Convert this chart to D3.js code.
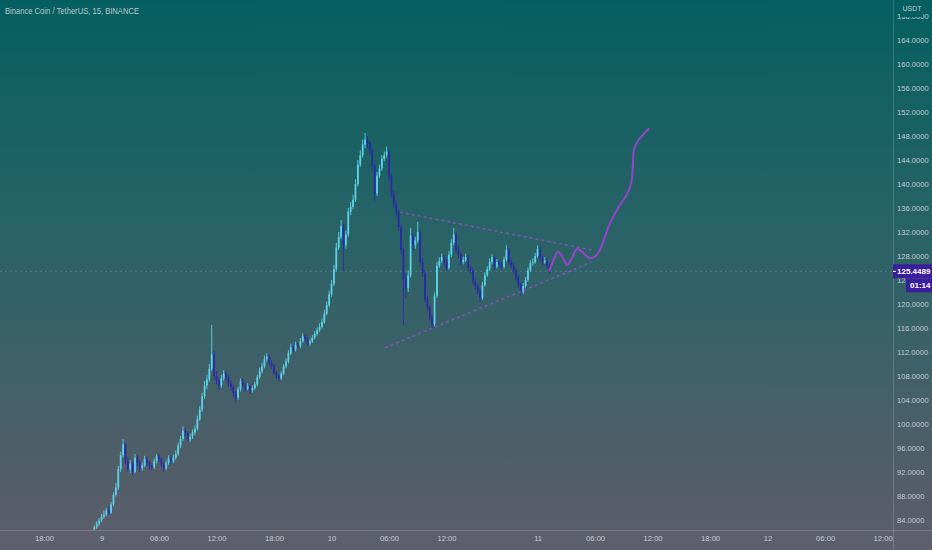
<!DOCTYPE html>
<html>
<head>
<meta charset="utf-8">
<script src="https://cdn.jsdelivr.net/npm/d3@7/dist/d3.min.js"></script>
<style>
html,body{margin:0;padding:0;background:#3a6066;}
svg{display:block;}
text{font-family:"Liberation Sans",Arial,sans-serif;}
</style>
</head>
<body>
<svg id="chart" width="932" height="550"></svg>
<script>
// ---- data ----
const title = "Binance Coin / TetherUS, 15, BINANCE";
const currency = "USDT";
const lastPriceLabel = "125.4489";
const countdownLabel = "01:14";
const lastPrice = 125.4489;

// time axis (15-minute bar index) tick labels
const tickLabels = ["18:00","9","06:00","12:00","18:00","10","06:00","12:00","11","06:00","12:00","18:00","12","06:00","12:00"];
const tickBars   = [0,24,48,72,96,120,144,168,206,230,254,278,302,326,350];
const priceTicks = [84,88,92,96,100,104,108,112,116,120,124,128,132,136,140,144,148,152,156,160,164,168];

const firstBar = 21;
const opens = [82.4,82.8,83.4,83.9,84.5,84.9,85.6,85.2,86.6,88.2,89.4,92.5,94.8,96.6,93.8,92.4,93.4,92.0,94.4,93.6,
92.6,93.1,94.2,93.5,93.0,92.8,93.8,94.6,94.1,93.2,92.6,93.5,94.3,93.8,94.4,95.0,96.4,97.5,98.9,98.5,
97.4,97.9,98.6,99.2,100.8,102.4,104.6,106.4,107.4,109.2,111.6,108.0,107.2,106.4,107.6,108.4,107.8,106.8,106.2,105.2,
104.4,105.8,107.1,106.4,105.9,106.3,105.6,106.0,106.6,107.8,108.8,109.6,110.8,111.2,110.2,109.6,108.6,108.0,107.6,108.4,
109.6,110.4,111.8,112.8,112.4,113.2,113.0,113.8,114.6,114.2,113.4,113.8,114.4,115.0,115.6,116.2,117.0,118.4,119.8,121.6,
123.4,125.8,129.4,131.2,133.0,129.8,131.6,135.4,136.2,137.4,140.0,143.2,144.8,146.6,147.4,146.8,145.6,143.0,138.4,141.4,
142.6,144.2,144.8,145.4,141.2,138.4,136.6,135.2,132.8,129.0,124.2,122.6,124.8,131.4,129.8,130.6,132.0,127.0,125.2,120.8,
119.4,117.8,116.6,121.4,126.4,127.2,127.8,127.0,126.0,128.2,130.2,131.6,129.0,128.2,127.0,127.4,127.8,126.0,125.6,123.8,
123.0,122.2,121.0,123.2,124.8,125.8,127.0,127.8,126.2,127.0,126.6,126.2,127.4,129.0,127.0,126.4,125.6,124.4,123.2,122.0,
123.0,124.0,125.6,126.8,127.0,128.0,129.2,127.6,127.0,127.2,126.4];
const highs = [83.1,83.8,84.3,85.0,85.6,86.0,86.2,87.0,88.6,90.2,93.0,95.4,97.5,97.0,94.5,94.0,93.8,95.0,94.9,94.0,
93.6,94.7,94.6,93.9,93.4,94.2,95.0,95.0,94.4,93.5,93.9,94.8,94.6,94.9,95.6,96.9,98.0,99.6,99.3,98.8,
98.4,99.1,99.8,101.4,103.0,105.2,107.2,108.2,110.0,116.5,112.2,108.8,107.8,108.2,109.0,108.8,108.2,107.2,106.6,105.6,
106.2,107.6,107.6,106.8,106.8,106.6,106.4,107.0,108.2,109.4,110.2,111.4,111.8,111.6,110.6,110.0,108.9,108.3,108.8,110.0,
110.9,112.3,113.4,113.2,113.7,113.6,114.3,115.1,115.0,114.5,114.2,114.8,115.5,116.1,116.8,117.6,119.0,120.4,122.2,124.0,
126.5,130.2,132.0,134.0,133.4,132.2,136.0,137.0,138.2,140.8,144.0,145.6,147.4,148.5,148.0,147.2,146.0,143.4,142.0,143.2,
144.8,145.4,146.2,145.8,141.6,138.9,137.2,135.6,133.2,129.4,125.0,125.6,132.7,131.8,131.2,133.7,132.4,127.6,125.6,121.4,
119.8,118.2,121.9,127.0,127.8,128.4,128.2,127.4,128.8,130.8,132.7,132.0,129.6,128.6,127.9,128.4,128.2,126.5,126.0,124.2,
123.4,122.6,123.7,125.3,126.3,127.6,128.3,128.1,127.5,127.3,127.0,127.9,129.8,129.3,127.4,126.8,126.0,124.8,123.6,123.5,
124.5,126.1,127.3,127.6,128.5,129.8,129.5,128.0,127.8,127.6,126.8];
const lows = [82.1,82.5,83.0,83.6,84.2,84.6,84.8,85.0,86.3,87.9,89.0,92.0,94.4,93.2,92.0,91.8,91.4,91.8,93.0,92.0,
92.2,92.8,93.0,92.4,92.2,92.5,93.4,93.7,92.8,92.0,92.3,93.2,93.3,93.5,94.1,94.7,96.0,97.2,98.0,97.0,
97.0,97.5,98.2,98.9,100.5,102.0,104.2,105.8,107.0,108.8,107.4,106.6,105.8,106.0,107.2,107.2,106.2,105.6,104.6,103.6,
104.0,105.4,106.0,105.4,105.6,105.0,105.2,105.7,106.3,107.5,108.4,109.3,110.4,109.8,109.2,108.2,107.5,107.1,107.3,108.1,
109.3,110.1,111.5,111.9,112.1,112.6,112.7,113.5,113.8,113.0,113.0,113.5,114.1,114.7,115.3,115.9,116.7,118.1,119.5,121.2,
123.0,125.4,129.0,130.8,125.5,129.2,131.2,134.8,135.8,137.0,139.6,142.8,144.4,146.0,146.0,145.0,142.4,137.0,138.0,141.0,
142.2,143.8,144.4,140.6,137.8,136.0,134.6,132.2,128.4,116.5,121.0,122.0,124.4,128.8,129.2,130.2,126.4,124.6,120.2,118.8,
117.2,116.0,116.3,121.0,126.0,126.8,126.4,125.4,125.7,127.8,129.8,128.4,127.6,126.4,126.6,127.0,125.5,125.0,123.2,122.4,
121.6,120.3,120.7,122.9,124.5,125.5,126.6,125.7,125.9,126.1,125.7,125.9,127.1,126.5,125.9,125.1,123.9,122.7,121.4,121.7,
122.7,123.7,125.3,126.4,126.7,127.7,127.1,126.5,126.7,125.9,125.0];
const closes = [82.8,83.4,83.9,84.5,84.9,85.6,85.2,86.6,88.2,89.4,92.5,94.8,96.6,93.8,92.4,93.4,92.0,94.4,93.6,92.6,
93.1,94.2,93.5,93.0,92.8,93.8,94.6,94.1,93.2,92.6,93.5,94.3,93.8,94.4,95.0,96.4,97.5,98.9,98.5,97.4,
97.9,98.6,99.2,100.8,102.4,104.6,106.4,107.4,109.2,111.6,108.0,107.2,106.4,107.6,108.4,107.8,106.8,106.2,105.2,104.4,
105.8,107.1,106.4,105.9,106.3,105.6,106.0,106.6,107.8,108.8,109.6,110.8,111.2,110.2,109.6,108.6,108.0,107.6,108.4,109.6,
110.4,111.8,112.8,112.4,113.2,113.0,113.8,114.6,114.2,113.4,113.8,114.4,115.0,115.6,116.2,117.0,118.4,119.8,121.6,123.4,
125.8,129.4,131.2,133.0,129.8,131.6,135.4,136.2,137.4,140.0,143.2,144.8,146.6,147.4,146.8,145.6,143.0,138.4,141.4,142.6,
144.2,144.8,145.4,141.2,138.4,136.6,135.2,132.8,129.0,124.2,122.6,124.8,131.4,129.8,130.6,132.0,127.0,125.2,120.8,119.4,
117.8,116.6,121.4,126.4,127.2,127.8,127.0,126.0,128.2,130.2,131.6,129.0,128.2,127.0,127.4,127.8,126.0,125.6,123.8,123.0,
122.2,121.0,123.2,124.8,125.8,127.0,127.8,126.2,127.0,126.6,126.2,127.4,129.0,127.0,126.4,125.6,124.4,123.2,122.0,123.0,
124.0,125.6,126.8,127.0,128.0,129.2,127.6,127.0,127.2,126.4,125.4489];

// projected path (drawing): bar index, price
const projBars   = [210.8,212.4,214.5,216.6,218.3,220.4,222.5,224.5,227.5,229.5,231.6,233.7,235.4,237.5,240.0,242.9,245.0,245.8,246.2,247.9,250.0,252.5];
const projPrices = [125.5,127.0,128.7,127.7,126.5,127.7,129.2,128.7,127.7,127.8,128.7,130.7,132.7,134.5,136.3,138.0,140.0,143.2,145.7,147.2,148.2,149.3];

// triangle trend lines: [startBar, startPrice, endBar, endPrice]
const upperTrend = [148.6,135.3,228.7,129.0];
const lowerTrend = [142.3,112.7,228.7,127.0];

// ---- layout ----
const W = 932, H = 550;
const plotRight = 893, plotBottom = 530;
const svg = d3.select("#chart");

const x = d3.scaleLinear().domain([0,350]).range([44,882.6]);
const y = d3.scaleLinear().domain([84,164]).range([520,40]);

const defs = svg.append("defs");
const grad = defs.append("linearGradient").attr("id","bg").attr("x1",0).attr("y1",0).attr("x2",0).attr("y2",1);
grad.append("stop").attr("offset","0%").attr("stop-color","#055f60");
grad.append("stop").attr("offset","45%").attr("stop-color","#2a6367");
grad.append("stop").attr("offset","100%").attr("stop-color","#5b5d6a");
defs.append("clipPath").attr("id","plotclip").append("rect")
  .attr("x",0).attr("y",0).attr("width",plotRight).attr("height",plotBottom);

svg.append("rect").attr("width",W).attr("height",plotBottom).attr("fill","url(#bg)");
svg.append("rect").attr("y",plotBottom).attr("width",W).attr("height",H-plotBottom).attr("fill","#5e5f6d");

const plot = svg.append("g").attr("clip-path","url(#plotclip)");

// last price dotted line
plot.append("line")
  .attr("x1",0).attr("x2",plotRight)
  .attr("y1",y(lastPrice)).attr("y2",y(lastPrice))
  .attr("stroke","rgba(140,150,210,0.45)").attr("stroke-width",1).attr("stroke-dasharray","2,3");

// candles
const candles = closes.map((c,i)=>({i:firstBar+i,o:opens[i],h:highs[i],l:lows[i],c:c}));
const upCol = "#5ad2e6", dnCol = "#2a2ba6";
const bw = 1.8;
const cg = plot.append("g");
cg.selectAll("line.wick").data(candles).join("line")
  .attr("x1",d=>x(d.i)).attr("x2",d=>x(d.i))
  .attr("y1",d=>y(d.h)).attr("y2",d=>y(d.l))
  .attr("stroke",d=>d.c>=d.o?upCol:dnCol).attr("stroke-width",0.9);
cg.selectAll("rect.body").data(candles).join("rect")
  .attr("x",d=>x(d.i)-bw/2).attr("width",bw)
  .attr("y",d=>y(Math.max(d.o,d.c)))
  .attr("height",d=>Math.max(1,Math.abs(y(d.o)-y(d.c))))
  .attr("fill",d=>d.c>=d.o?upCol:dnCol);

// trend lines
[upperTrend, lowerTrend].forEach(t=>{
  plot.append("line")
    .attr("x1",x(t[0])).attr("y1",y(t[1])).attr("x2",x(t[2])).attr("y2",y(t[3]))
    .attr("stroke","#9a4fd0").attr("stroke-opacity",0.75).attr("stroke-width",1.6)
    .attr("stroke-dasharray","3,3");
});

// projection path
const proj = projBars.map((b,i)=>[b,projPrices[i]]);
plot.append("path").datum(proj)
  .attr("d",d3.line().x(d=>x(d[0])).y(d=>y(d[1])).curve(d3.curveCatmullRom.alpha(0.5)))
  .attr("fill","none").attr("stroke","#9544cc").attr("stroke-width",2);

// separators
svg.append("line").attr("x1",plotRight+0.5).attr("x2",plotRight+0.5).attr("y1",0).attr("y2",H)
  .attr("stroke","rgba(200,210,220,0.22)");
svg.append("line").attr("x1",0).attr("x2",W).attr("y1",plotBottom+0.5).attr("y2",plotBottom+0.5)
  .attr("stroke","rgba(200,210,220,0.22)");

// y axis
const yAxis = d3.axisRight(y).tickValues(priceTicks).tickFormat(d=>d.toFixed(4)).tickSize(0).tickPadding(4);
const ya = svg.append("g").attr("transform",`translate(${plotRight},0)`).call(yAxis);
ya.select(".domain").remove();
ya.selectAll("text").attr("fill","#c3cad2").attr("font-size","7.6px").attr("font-family","Liberation Sans, Arial, sans-serif");

// x axis
const xAxis = d3.axisBottom(x).tickValues(tickBars).tickFormat((d,i)=>tickLabels[i]).tickSize(0).tickPadding(6);
const xa = svg.append("g").attr("transform",`translate(0,${plotBottom})`).call(xAxis);
xa.select(".domain").remove();
xa.selectAll("text").attr("fill","#c8ccd4").attr("font-size","7.6px").attr("font-family","Liberation Sans, Arial, sans-serif");

// currency tag over top label (hides the middle digits like the reference)
svg.append("rect").attr("x",901).attr("y",1).attr("width",22).attr("height",16).attr("fill","#055f60");
svg.append("text").attr("x",912).attr("y",11).attr("text-anchor","middle")
  .attr("fill","#c3cad2").attr("font-size","7px").text(currency);

// last price label
const ly = y(lastPrice);
svg.append("rect").attr("x",plotRight).attr("y",ly-7).attr("width",W-plotRight).attr("height",14).attr("fill","#3a1e9c");
svg.append("line").attr("x1",plotRight).attr("x2",plotRight+3).attr("y1",ly).attr("y2",ly).attr("stroke","#ffffff");
svg.append("text").attr("x",plotRight+4).attr("y",ly+3).attr("fill","#ffffff")
  .attr("font-size","8px").attr("font-weight","bold").text(lastPriceLabel);
svg.append("rect").attr("x",906).attr("y",ly+7).attr("width",W-906).attr("height",14).attr("fill","#3a1e9c");
svg.append("text").attr("x",910).attr("y",ly+17).attr("fill","#ffffff")
  .attr("font-size","8px").attr("font-weight","bold").text(countdownLabel);

// title
svg.append("text").attr("x",5).attr("y",14).attr("fill","#b9c8cd").attr("font-size","8.4px")
  .attr("textLength",134).attr("lengthAdjust","spacingAndGlyphs").text(title);
</script>
</body>
</html>
